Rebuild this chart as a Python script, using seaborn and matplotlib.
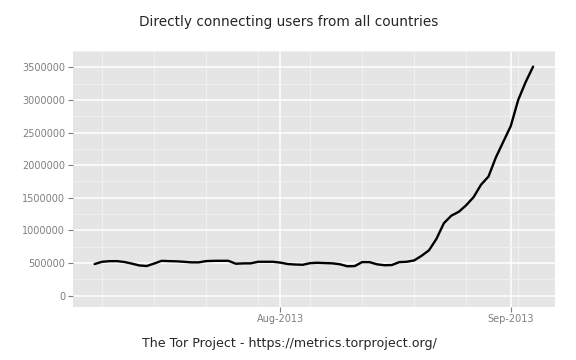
import pandas as pd
import numpy as np
import matplotlib
matplotlib.use('Agg')
import matplotlib.pyplot as plt
import matplotlib.dates as mdates
import seaborn as sns

# daily directly connecting users, 2013-07-07 .. 2013-09-04
start_date = '2013-07-07'
users = [483000, 518000, 527000, 528000, 515000, 490000, 462000, 453000, 490000, 532000,
         528000, 525000, 518000, 509000, 509000, 528000, 532000, 533000, 533000, 488000,
         493000, 494000, 518000, 518000, 518000, 505000, 483000, 476000, 472000, 497000,
         503000, 498000, 494000, 480000, 449000, 452000, 513000, 512000, 479000, 465000,
         468000, 513000, 518000, 539000, 610000, 695000, 870000, 1110000, 1225000, 1284000,
         1385000, 1510000, 1700000, 1825000, 2120000, 2360000, 2600000, 3000000, 3273000, 3510000]
y_ticks = [0, 500000, 1000000, 1500000, 2000000, 2500000, 3000000, 3500000]
title = 'Directly connecting users from all countries'
caption = 'The Tor Project - https://metrics.torproject.org/'

df = pd.DataFrame({'date': pd.date_range(start_date, periods=len(users), freq='D'),
                   'users': users})

sns.set_style('darkgrid', {'axes.facecolor': '#E5E5E5', 'grid.color': 'white'})
plt.rcParams['font.family'] = ['DejaVu Sans']

fig = plt.figure(figsize=(5.76, 3.6), dpi=100)
ax = fig.add_axes([72.7 / 576, 1 - 307 / 360, (555 - 72.7) / 576, (307 - 51) / 360])
sns.lineplot(data=df, x='date', y='users', color='black', linewidth=1.7, ax=ax)

# ggplot-like expansion of 5%
span = df['date'].iloc[-1] - df['date'].iloc[0]
ax.set_xlim(df['date'].iloc[0] - span * 0.05, df['date'].iloc[-1] + span * 0.05)
ymax = max(users)
ax.set_ylim(-0.05 * ymax, ymax * 1.05)

ax.xaxis.set_major_locator(mdates.MonthLocator())
ax.xaxis.set_major_formatter(mdates.DateFormatter('%b-%Y'))
ax.xaxis.set_minor_locator(mdates.WeekdayLocator(byweekday=mdates.MO))
ax.set_yticks(y_ticks)
ax.set_yticks([v + 250000 for v in y_ticks], minor=True)
ax.yaxis.set_major_formatter(matplotlib.ticker.FuncFormatter(lambda v, p: '%d' % v))

ax.grid(which='major', color='white', linewidth=1.1)
ax.grid(which='minor', color='#F2F2F2', linewidth=0.6)
ax.set_axisbelow(True)
for s in ax.spines.values():
    s.set_visible(False)
ax.tick_params(which='major', length=3.5, width=0.8, color='#7F7F7F',
               labelsize=7, labelcolor='#7F7F7F', pad=2, left=True, bottom=True)
ax.tick_params(axis='x', pad=1.2)
ax.tick_params(which='minor', length=0)
ax.set_xlabel('')
ax.set_ylabel('')

fig.text(289 / 576, 1 - 22 / 360, title, ha='center', va='center', fontsize=9.8)
fig.text(289 / 576, 1 - 344 / 360, caption, ha='center', va='center', fontsize=9.1)

fig.savefig('out.png', dpi=100)
